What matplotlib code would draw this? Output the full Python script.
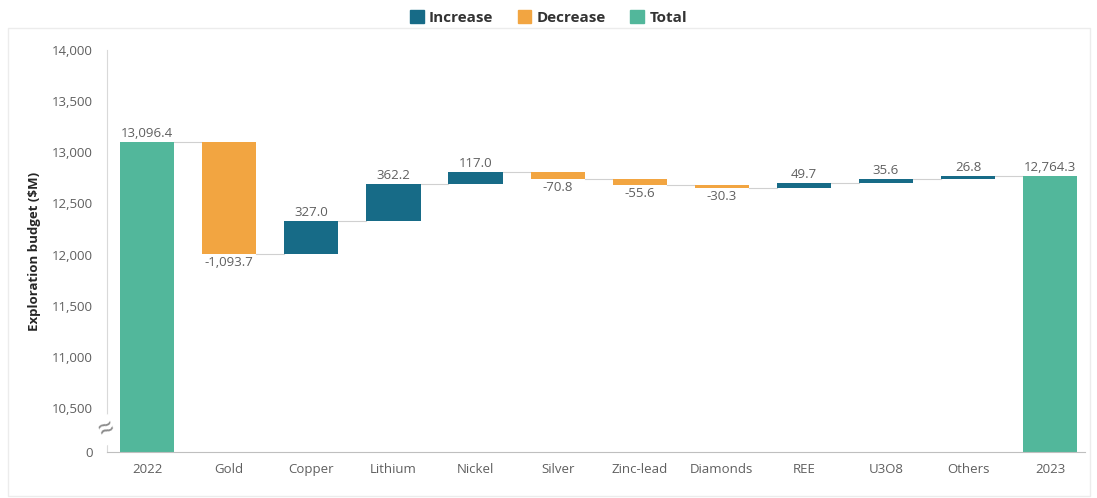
import numpy as np
import matplotlib.pyplot as plt
from matplotlib.patches import Rectangle, Patch

plt.rcParams['font.family'] = ['Open Sans', 'DejaVu Sans']

Categories = ["2022", "Gold", "Copper", "Lithium", "Nickel", "Silver",
              "Zinc-lead", "Diamonds", "REE", "U3O8", "Others", "2023"]
StartTotal = 13096.4
Changes = [-1093.7, 327.0, 362.2, 117.0, -70.8, -55.6, -30.3, 49.7, 35.6, 26.8]
EndTotal = 12764.3
YTicks = [0, 10500, 11000, 11500, 12000, 12500, 13000, 13500, 14000]

IncreaseColour = "#176b87"
DecreaseColour = "#f2a541"
TotalColour = "#52b79b"
TextColour = "#5f5f5f"

# broken axis: squash 0..10,500 into a short strip at the bottom
BreakAt = 10500
SquashTo = 10070

def forward(y):
    y = np.asarray(y, dtype=float)
    low = SquashTo + y * (BreakAt - SquashTo) / BreakAt
    return np.where(y >= BreakAt, y, low)

def inverse(y):
    y = np.asarray(y, dtype=float)
    low = (y - SquashTo) * BreakAt / (BreakAt - SquashTo)
    return np.where(y >= BreakAt, y, low)

fig = plt.figure(figsize=(10.97, 4.98), dpi=100)
ax = fig.add_axes([0.0975, 0.092, 0.892, 0.808])
ax.set_yscale("function", functions=(forward, inverse))

width = 0.66
x = np.arange(len(Categories))

# totals
ax.bar(x[0], StartTotal, width, color=TotalColour)
ax.bar(x[-1], EndTotal, width, color=TotalColour)
ax.text(x[0], StartTotal + 18, f"{StartTotal:,.1f}", ha="center", va="bottom",
        fontsize=9.5, color=TextColour)
ax.text(x[-1], EndTotal + 18, f"{EndTotal:,.1f}", ha="center", va="bottom",
        fontsize=9.5, color=TextColour)

level = StartTotal
levels = [StartTotal]
for i, change in enumerate(Changes):
    pos = x[i + 1]
    new = level + change
    colour = IncreaseColour if change > 0 else DecreaseColour
    ax.bar(pos, change, width, bottom=level, color=colour)
    if change > 0:
        ax.text(pos, new + 18, f"{change:,.1f}", ha="center", va="bottom",
                fontsize=9.5, color=TextColour)
    else:
        ax.text(pos, new - 18, f"{change:,.1f}", ha="center", va="top",
                fontsize=9.5, color=TextColour)
    level = new
    levels.append(level)

# connector lines
for i, lv in enumerate(levels):
    ax.plot([x[i] + width / 2, x[i + 1] - width / 2], [lv, lv],
            color="#d0d0d0", linewidth=0.8, zorder=0)

ax.set_xlim(-0.49, len(Categories) - 0.57)
ax.set_ylim(0, 14000)
ax.set_yticks(YTicks)
ax.set_yticklabels([f"{t:,}" for t in YTicks])
ax.set_xticks(x)
ax.set_xticklabels(Categories)
ax.tick_params(axis="both", length=0, labelsize=9.5, colors=TextColour)
ax.tick_params(axis="x", pad=8)
ax.tick_params(axis="y", pad=10)

for side in ["top", "right"]:
    ax.spines[side].set_visible(False)
ax.spines["left"].set_color("#d9d9d9")
ax.spines["bottom"].set_color("#bfbfbf")

ax.set_ylabel("Exploration budget ($M)", fontsize=9.5, fontweight="bold",
              color="#262626", labelpad=8)

# break mark on the y axis
ax.text(0, 0.055, "≈", transform=ax.transAxes, ha="center", va="center",
        fontsize=20, rotation=25, color="#8c8c8c",
        bbox=dict(facecolor="white", edgecolor="none", pad=0))

handles = [Patch(color=IncreaseColour, label="Increase"),
           Patch(color=DecreaseColour, label="Decrease"),
           Patch(color=TotalColour, label="Total")]
leg = fig.legend(handles=handles, loc="center", bbox_to_anchor=(0.5, 0.965),
                 ncol=3, frameon=False, handlelength=0.9, handleheight=0.9,
                 handletextpad=0.35, columnspacing=1.6,
                 prop={"weight": "bold", "size": 11})
for t in leg.get_texts():
    t.set_color("#333333")

# light frame around the chart area
fig.patches.append(Rectangle((0.007, 0.004), 0.987, 0.94, transform=fig.transFigure,
                             fill=False, edgecolor="#ececec", linewidth=1))

fig.savefig("out.png", dpi=100)
